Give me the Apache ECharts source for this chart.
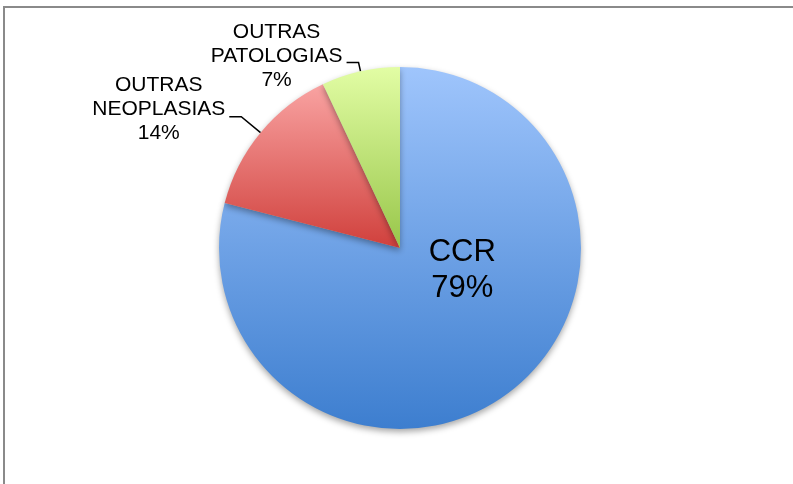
<!DOCTYPE html>
<html>
<head>
<meta charset="utf-8">
<script src="https://cdn.jsdelivr.net/npm/echarts@6/dist/echarts.min.js"></script>
<style>
  html, body { margin: 0; padding: 0; background: #ffffff; }
  #chart { width: 793px; height: 484px; }
</style>
</head>
<body>
<div id="chart"></div>
<script>
// Categories and their shares (percent)
const categories = ['CCR', 'OUTRAS\nNEOPLASIAS', 'OUTRAS\nPATOLOGIAS'];
const shares = [79, 14, 7];

// Vertical gradient stops (top, bottom) for each slice
const gradTop = ['#9fc5fc', '#f9a3a2', '#e2fda4'];
const gradBottom = ['#3d7ecf', '#d0403c', '#98c64a'];

const FONT = 'Liberation Sans, Arial, sans-serif';

const chart = echarts.init(document.getElementById('chart'), null, { renderer: 'canvas' });

function grad(i) {
  return new echarts.graphic.LinearGradient(0, 0, 0, 1, [
    { offset: 0, color: gradTop[i] },
    { offset: 1, color: gradBottom[i] }
  ]);
}

// Each line of an outside label is a centred rich-text token
function centredLines(p) {
  const lines = (p.name + '\n' + p.value + '%').split('\n');
  return lines.map(function (s) { return '{c|' + s + '}'; }).join('\n');
}

const outerLabel = {
  show: true,
  position: 'outside',
  fontFamily: FONT,
  fontSize: 21,
  lineHeight: 24,
  color: '#000000',
  formatter: centredLines,
  rich: {
    c: { align: 'center', fontFamily: FONT, fontSize: 21, lineHeight: 24, color: '#000000' }
  }
};

const data = categories.map(function (name, i) {
  const item = {
    name: name,
    value: shares[i],
    itemStyle: { color: grad(i) }
  };
  if (i === 0) {
    item.label = {
      show: true,
      position: 'inside',
      fontFamily: FONT,
      fontSize: 31,
      lineHeight: 36,
      color: '#000000',
      offset: [5, -51],
      formatter: function (p) { return p.name + '\n' + p.value + '%'; }
    };
    item.labelLine = { show: false };
  } else if (i === 1) {
    item.label = Object.assign({}, outerLabel, { padding: [0, 0, 14, 0] });
    item.labelLine = { show: true, length: 25, length2: 12 };
  } else {
    item.label = Object.assign({}, outerLabel, { padding: [0, 0, 12, 0] });
    item.labelLine = { show: true, length: 9, length2: 12 };
  }
  return item;
});

chart.setOption({
  backgroundColor: '#ffffff',
  animation: false,
  graphic: [{
    type: 'rect',
    shape: { x: 4, y: 7, width: 820, height: 520 },
    style: { fill: 'none', stroke: '#8a8a8a', lineWidth: 2 },
    silent: true
  }],
  series: [{
    type: 'pie',
    center: [400, 248],
    radius: [0, 181],
    startAngle: 90,
    clockwise: true,
    avoidLabelOverlap: false,
    labelLayout: { hideOverlap: false },
    labelLine: {
      lineStyle: { color: '#000000', width: 1.5 },
      smooth: false
    },
    label: { distanceToLabelLine: 4 },
    itemStyle: {
      borderWidth: 0,
      shadowBlur: 6,
      shadowOffsetY: 3,
      shadowColor: 'rgba(0,0,0,0.35)'
    },
    emphasis: { disabled: true },
    data: data
  }]
});
</script>
</body>
</html>
